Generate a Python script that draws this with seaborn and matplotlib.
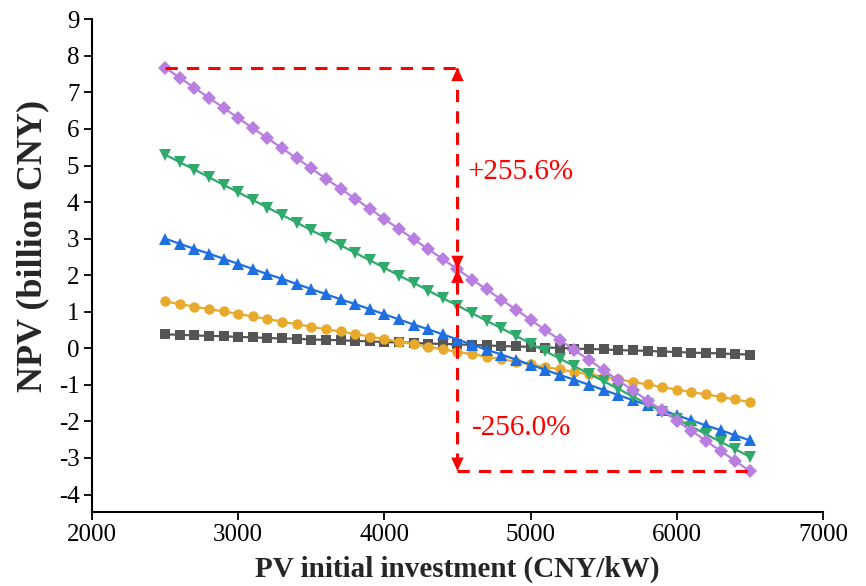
import matplotlib
matplotlib.use("Agg")
import matplotlib.pyplot as plt
import seaborn as sns

# PV initial investment grid (CNY/kW)
investment = list(range(2500, 6600, 100))

# NPV (billion CNY) for each scenario
npv_gray = [0.38, 0.37, 0.35, 0.34, 0.33, 0.31, 0.30, 0.28, 0.27, 0.26, 0.24,
            0.23, 0.22, 0.20, 0.19, 0.17, 0.16, 0.15, 0.13, 0.12, 0.11,
            0.09, 0.08, 0.06, 0.05, 0.04, 0.02, 0.01, -0.01, -0.02, -0.03,
            -0.05, -0.06, -0.07, -0.09, -0.10, -0.12, -0.13, -0.14, -0.16, -0.17]
npv_orange = [1.28, 1.21, 1.14, 1.07, 1.01, 0.94, 0.87, 0.80, 0.73, 0.66, 0.59,
              0.52, 0.46, 0.39, 0.32, 0.25, 0.18, 0.11, 0.04, -0.03, -0.10,
              -0.16, -0.23, -0.30, -0.37, -0.44, -0.51, -0.58, -0.65, -0.71, -0.78,
              -0.85, -0.92, -0.99, -1.06, -1.13, -1.20, -1.26, -1.33, -1.40, -1.47]
npv_blue = [3.00, 2.86, 2.72, 2.59, 2.45, 2.31, 2.17, 2.03, 1.90, 1.76, 1.62,
            1.48, 1.34, 1.21, 1.07, 0.93, 0.79, 0.65, 0.52, 0.38, 0.24,
            0.10, -0.04, -0.17, -0.31, -0.45, -0.59, -0.73, -0.86, -1.00, -1.14,
            -1.28, -1.42, -1.55, -1.69, -1.83, -1.97, -2.11, -2.24, -2.38, -2.52]
npv_green = [5.30, 5.09, 4.89, 4.68, 4.47, 4.27, 4.06, 3.85, 3.65, 3.44, 3.23,
             3.03, 2.82, 2.61, 2.41, 2.20, 1.99, 1.79, 1.58, 1.37, 1.17,
             0.96, 0.75, 0.55, 0.34, 0.13, -0.08, -0.28, -0.49, -0.70, -0.90,
             -1.11, -1.32, -1.52, -1.73, -1.94, -2.14, -2.35, -2.56, -2.76, -2.97]
npv_purple = [7.68, 7.40, 7.13, 6.85, 6.58, 6.30, 6.02, 5.75, 5.47, 5.20, 4.92,
              4.64, 4.37, 4.09, 3.82, 3.54, 3.26, 2.99, 2.71, 2.44, 2.16,
              1.88, 1.61, 1.33, 1.06, 0.78, 0.50, 0.23, -0.05, -0.32, -0.60,
              -0.88, -1.15, -1.43, -1.70, -1.98, -2.26, -2.53, -2.81, -3.08, -3.36]

# reference investment and the change labels
base_investment = 4500
label_up = "+255.6%"
label_down = "-256.0%"

sns.set_style("ticks")
plt.rcParams["font.family"] = ["Liberation Serif", "DejaVu Serif"]
plt.rcParams["axes.unicode_minus"] = False

fig = plt.figure(figsize=(8.66, 5.86), dpi=100)
ax = fig.add_axes([0.1062, 0.1268, 0.8441, 0.8403])

series = [
    (npv_gray, "#555555", "s", 6.5),
    (npv_orange, "#E8AA2C", "o", 7.5),
    (npv_blue, "#1E6FE0", "^", 9),
    (npv_green, "#2FAA6A", "v", 9),
    (npv_purple, "#B97FE0", "D", 6.8),
]
for values, color, marker, ms in series:
    sns.lineplot(x=investment, y=values, color=color, marker=marker,
                 markersize=ms, markeredgewidth=0, linewidth=1.6, ax=ax)

# dashed guide lines showing the NPV change around the base case
red = "#FF0000"
i0 = investment.index(base_investment)
top_val = npv_purple[0]
mid_val = npv_purple[i0]
bot_val = npv_purple[-1]
dash_kw = dict(color=red, linewidth=2.2, dashes=(4, 3), zorder=5)
ax.plot([investment[0], base_investment], [top_val, top_val], **dash_kw)
ax.plot([base_investment, base_investment], [top_val, bot_val], **dash_kw)
ax.plot([base_investment, investment[-1]], [bot_val, bot_val], **dash_kw)

def head(tip, tail):
    ax.annotate("", xy=(base_investment, tip), xytext=(base_investment, tail),
                arrowprops=dict(arrowstyle="-|>,head_length=0.7,head_width=0.32",
                                color=red, lw=0, shrinkA=0, shrinkB=0,
                                mutation_scale=14),
                zorder=6)

head(top_val, top_val - 0.4)
head(mid_val, mid_val + 0.4)
head(mid_val, mid_val - 0.4)
head(bot_val, bot_val + 0.4)

ax.text(4570, 4.82, label_up, color=red, fontsize=21, va="center", ha="left")
ax.text(4600, -2.18, label_down, color=red, fontsize=21, va="center", ha="left")

ax.set_xlim(2000, 7000)
ax.set_ylim(-4.47, 9)
ax.set_xticks(range(2000, 7001, 1000))
ax.set_yticks(range(-4, 10))
ax.tick_params(axis="both", labelsize=18, length=6, width=1.3, colors="black",
               direction="out", pad=3)
for side in ("left", "bottom"):
    ax.spines[side].set_linewidth(1.5)
    ax.spines[side].set_color("black")
sns.despine(ax=ax)

ax.set_xlabel("PV initial investment (CNY/kW)", fontsize=21, fontweight="bold",
              labelpad=7)
ax.set_ylabel("NPV (billion CNY)", fontsize=26, fontweight="bold")
ax.yaxis.set_label_coords(-0.058, 0.54)

fig.savefig("out.png", dpi=100)
